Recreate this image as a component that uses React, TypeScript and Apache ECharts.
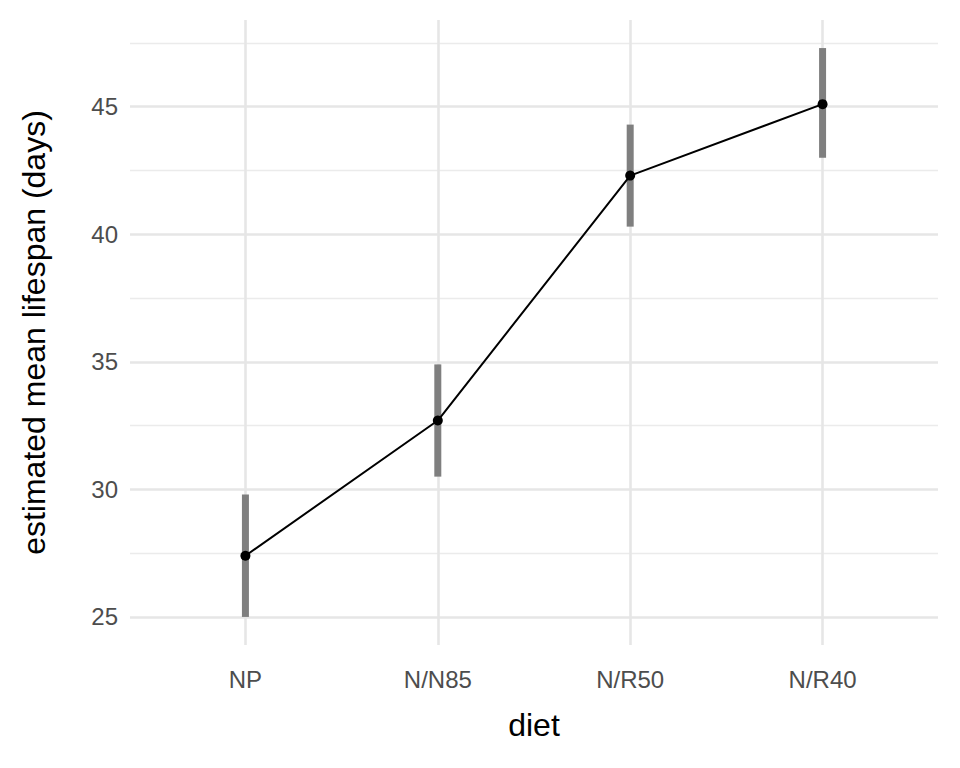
import React, { useEffect, useRef } from 'react';
import * as echarts from 'echarts';

const categories = ['NP', 'N/N85', 'N/R50', 'N/R40'];
const means = [27.4, 32.7, 42.3, 45.1];
const lower = [25.0, 30.5, 40.3, 43.0];
const upper = [29.8, 34.9, 44.3, 47.3];
const majorY = [25, 30, 35, 40, 45];
const minorY = [27.5, 32.5, 37.5, 42.5, 47.5];

const App: React.FC = () => {
  const ref = useRef<HTMLDivElement>(null);

  useEffect(() => {
    if (!ref.current) return;
    const chart = echarts.init(ref.current, undefined, { renderer: 'svg' });
    const pos = categories.map((_, i) => i + 1);
    const font = 'Liberation Sans, Arial, sans-serif';
    const gridLines = [
      ...majorY.map((v) => ({ yAxis: v, lineStyle: { color: '#e6e6e6', width: 2.6, type: 'solid' } })),
      ...minorY.map((v) => ({ yAxis: v, lineStyle: { color: '#ebebeb', width: 1.4, type: 'solid' } })),
      ...pos.map((v) => ({ xAxis: v, lineStyle: { color: '#e6e6e6', width: 2.6, type: 'solid' } })),
    ];
    chart.setOption({
      animation: false,
      grid: { left: 122, right: 14, top: 12, bottom: 115 },
      xAxis: {
        type: 'value', min: 0.4, max: 4.6,
        name: 'diet', nameLocation: 'middle', nameGap: 64,
        nameTextStyle: { fontSize: 32, color: '#000', fontFamily: font },
        axisLine: { show: false }, axisTick: { show: false }, splitLine: { show: false },
        axisLabel: {
          customValues: pos, fontSize: 24, color: '#4d4d4d', fontFamily: font, margin: 22,
          formatter: (v: number) => categories[Math.round(v) - 1] ?? '',
        },
      },
      yAxis: {
        type: 'value', min: 23.9, max: 48.4,
        name: 'estimated mean lifespan (days)', nameLocation: 'middle', nameGap: 80,
        nameTextStyle: { fontSize: 32, color: '#000', fontFamily: font },
        axisLine: { show: false }, axisTick: { show: false }, splitLine: { show: false },
        axisLabel: { customValues: majorY, fontSize: 24, color: '#4d4d4d', fontFamily: font, margin: 12 },
      },
      series: [
        {
          type: 'custom', silent: true, z: 2,
          data: pos.map((p, i) => [p, lower[i], upper[i]]),
          renderItem: (_: any, api: any) => {
            const a = api.coord([api.value(0), api.value(1)]);
            const b = api.coord([api.value(0), api.value(2)]);
            return { type: 'line', shape: { x1: a[0], y1: a[1], x2: b[0], y2: b[1] }, style: { stroke: '#7f7f7f', lineWidth: 7 } };
          },
          markLine: { silent: true, symbol: 'none', label: { show: false }, z: 0, data: gridLines },
        },
        {
          type: 'line', z: 3,
          data: pos.map((p, i) => [p, means[i]]),
          symbol: 'circle', symbolSize: 10,
          itemStyle: { color: '#000' },
          lineStyle: { color: '#000', width: 2 },
        },
      ],
    });
    return () => chart.dispose();
  }, []);

  return <div ref={ref} style={{ width: 944, height: 752 }} />;
};

export default App;
